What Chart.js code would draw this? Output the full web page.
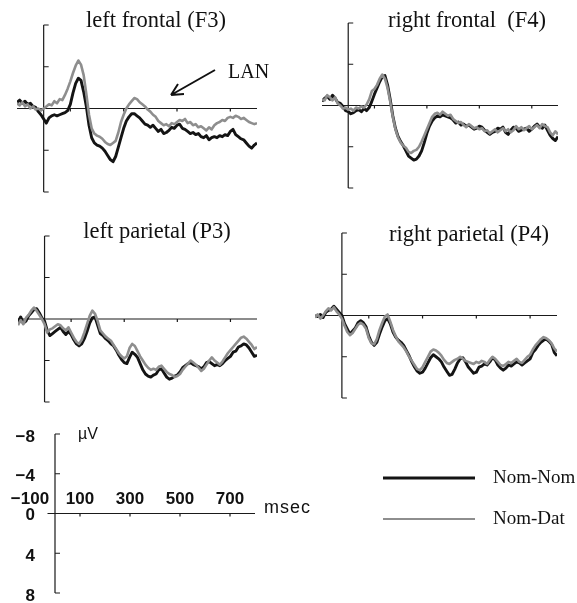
<!DOCTYPE html>
<html>
<head>
<meta charset="utf-8">
<script src="https://cdn.jsdelivr.net/npm/chart.js@4.4.1/dist/chart.umd.min.js"></script>
<style>
  html,body{margin:0;padding:0;background:#fff;}
  #fig{position:relative;width:577px;height:603px;overflow:hidden;}
  #fig canvas{position:absolute;}
</style>
</head>
<body>
<div id="fig"></div>
<script>
// time axis (msec), one sample every 10 ms
const times = [-100,-90,-80,-70,-60,-50,-40,-30,-20,-10,
  0,10,20,30,40,50,60,70,80,90,
  100,110,120,130,140,150,160,170,180,190,
  200,210,220,230,240,250,260,270,280,290,
  300,310,320,330,340,350,360,370,380,390,
  400,410,420,430,440,450,460,470,480,490,
  500,510,520,530,540,550,560,570,580,590,
  600,610,620,630,640,650,660,670,680,690,
  700,710,720,730,740,750,760,770,780,790,
  800];

const seriesNames = ['Nom-Nom','Nom-Dat'];
const panelTitles = ['left frontal (F3)','right frontal  (F4)','left parietal (P3)','right parietal (P4)'];

// µV, negative plotted upwards
const f3NomNom = [-0.6,-0.8,-0.5,-0.7,-0.4,-0.5,-0.2,-0.1,0.3,0.6,
  1.0,1.4,0.9,0.7,0.6,0.7,0.6,0.5,0.4,0.2,
  -0.4,-1.5,-2.4,-2.9,-2.7,-1.6,-0.2,1.6,2.8,3.3,
  3.5,3.6,3.8,4.1,4.5,4.9,5.1,4.6,3.7,2.8,
  1.9,1.2,0.8,0.5,0.5,0.7,0.9,1.2,1.5,1.6,
  1.8,1.6,1.9,2.2,2.0,2.4,2.3,2.1,1.8,1.9,
  1.6,1.5,1.9,2.0,2.2,2.4,2.3,2.5,2.4,2.7,
  2.8,2.6,3.0,2.8,2.7,2.8,2.6,2.7,2.5,2.6,
  2.2,2.0,2.5,2.7,2.9,3.0,3.3,3.6,3.8,3.5,
  3.3];
const f3NomDat = [-0.5,-0.3,-0.6,-0.2,-0.4,0.0,-0.2,0.1,0.0,0.2,
  0.0,-0.2,-0.4,-0.3,-0.7,-0.5,-0.9,-0.8,-1.3,-1.9,
  -2.6,-3.4,-4.1,-4.6,-4.2,-3.2,-1.4,0.6,1.9,2.4,
  2.6,2.7,2.9,3.2,3.4,3.5,3.3,3.1,2.3,1.3,
  0.6,0.0,-0.4,-0.7,-1.0,-0.9,-0.6,-0.4,-0.2,0.1,
  0.3,0.6,0.8,1.2,1.4,1.6,1.5,1.7,1.4,1.5,
  1.3,1.1,1.2,1.0,1.4,1.3,1.6,1.5,1.8,1.7,
  1.9,2.1,1.8,2.0,1.6,1.4,1.3,1.1,1.2,0.9,
  0.8,0.9,0.7,0.8,1.0,0.9,1.1,1.3,1.4,1.5,
  1.4];
const f4NomNom = [-0.4,-0.7,-0.9,-0.6,-1.0,-0.7,-0.3,-0.2,0.1,0.5,
  0.6,0.8,0.7,0.5,0.4,0.6,0.3,0.5,0.2,-0.4,
  -1.1,-1.7,-2.3,-2.8,-2.9,-2.0,-0.6,1.0,2.2,3.0,
  3.5,3.9,4.4,4.9,5.1,5.3,5.2,4.9,4.4,3.6,
  2.7,2.0,1.5,1.2,1.0,1.1,0.9,1.0,1.1,1.2,
  1.4,1.7,1.6,1.9,1.8,2.0,1.9,2.1,2.3,2.2,
  2.0,2.1,2.4,2.6,2.8,2.6,2.5,2.2,2.3,2.1,
  2.6,2.8,2.4,2.1,2.2,2.5,2.4,2.3,2.2,2.5,
  2.3,2.0,1.8,2.1,2.2,1.9,2.4,2.9,3.2,3.4,
  3.0];
const f4NomDat = [-0.6,-0.5,-1.0,-0.8,-0.5,-0.8,-0.2,0.0,0.3,0.2,
  0.4,0.3,0.5,0.2,0.3,0.1,0.2,-0.1,-0.6,-1.4,
  -1.6,-2.0,-2.6,-3.0,-2.6,-1.7,-0.4,1.1,2.3,3.1,
  3.6,3.9,4.1,4.5,4.6,4.4,4.3,4.0,3.5,2.9,
  2.3,1.7,1.1,0.8,0.7,0.9,0.6,0.8,1.0,0.9,
  1.3,1.5,1.7,1.6,1.9,2.1,1.8,2.0,2.2,2.1,
  2.3,2.2,2.5,2.4,2.7,2.5,2.3,2.6,2.4,2.2,
  2.5,2.3,2.6,2.4,2.0,2.3,2.1,2.4,2.2,2.0,
  2.3,2.1,1.9,2.2,1.8,2.0,2.1,2.6,2.9,2.5,
  2.8];
const p3NomNom = [0.3,-0.2,0.4,0.2,-0.3,-0.6,-0.9,-1.0,-0.6,-0.1,
  0.2,1.1,1.6,1.4,1.2,1.0,0.8,1.2,1.5,1.2,
  1.5,2.0,2.4,2.6,2.4,1.9,1.2,0.4,-0.1,-0.2,
  0.6,1.4,1.6,1.9,2.1,2.4,2.6,3.0,3.5,3.9,
  4.2,4.3,3.7,3.2,3.4,3.7,4.3,4.9,5.3,5.5,
  5.6,5.4,5.3,4.9,4.8,5.2,5.6,5.8,5.7,5.5,
  5.4,5.1,4.7,4.5,4.3,4.2,4.4,4.5,4.6,4.8,
  4.6,4.2,4.1,4.3,4.5,4.4,4.5,4.3,4.0,3.8,
  3.6,3.2,3.1,2.7,2.6,2.4,2.5,2.8,3.2,3.6,
  3.5];
const p3NomDat = [0.6,0.1,0.5,-0.1,-0.4,-0.8,-1.1,-0.8,-0.4,0.0,
  0.5,1.3,1.0,0.9,0.7,0.5,0.6,0.9,1.1,0.8,
  1.3,1.8,2.2,2.4,2.0,1.3,0.5,-0.3,-0.8,-0.5,
  0.2,1.1,1.4,1.7,1.9,2.1,2.5,2.9,3.3,3.6,
  3.8,3.6,2.8,2.4,2.6,3.1,3.6,4.0,4.4,4.7,
  4.9,4.8,4.9,4.6,4.5,4.8,5.1,5.3,5.4,5.6,
  5.5,5.3,4.9,4.6,4.3,4.0,4.2,4.4,4.7,5.0,
  4.8,4.4,4.0,3.7,4.0,4.2,4.4,4.1,3.7,3.3,
  3.0,2.7,2.4,2.1,1.8,1.7,1.9,2.2,2.5,2.9,
  2.7];
const p4NomNom = [0.0,0.1,-0.1,0.2,-0.3,-0.5,-0.6,-0.9,-0.6,-0.3,
  0.0,0.8,1.3,1.8,1.5,1.2,0.7,0.5,0.7,1.1,
  2.0,2.6,2.9,2.6,1.8,1.1,0.5,0.3,0.8,1.6,
  2.1,2.4,2.6,2.9,3.4,3.9,4.5,5.0,5.4,5.6,
  5.5,5.1,4.6,4.1,3.8,4.0,4.2,4.5,5.0,5.4,
  5.8,5.7,5.2,4.6,4.2,4.1,4.5,5.0,5.3,5.6,
  5.5,5.0,4.9,4.7,4.8,4.5,4.1,4.3,4.8,5.1,
  5.3,5.1,4.8,4.9,4.7,4.5,4.6,4.8,4.6,4.4,
  4.2,3.6,3.3,2.9,2.6,2.4,2.3,2.5,2.8,3.6,
  3.9];
const p4NomDat = [0.2,-0.1,0.3,0.0,-0.4,-0.7,-0.5,-0.8,-0.4,-0.1,
  0.3,1.0,1.6,1.9,1.7,1.3,0.9,0.7,0.9,1.3,
  2.2,2.7,2.8,2.3,1.4,0.7,0.1,-0.1,0.6,1.4,
  2.0,2.5,2.8,3.1,3.5,4.0,4.4,4.8,5.2,5.3,
  5.0,4.5,4.0,3.5,3.3,3.4,3.6,3.9,4.3,4.6,
  4.7,4.5,4.3,4.2,4.0,4.2,4.4,4.5,4.6,4.7,
  4.5,4.6,4.4,4.5,4.7,4.3,4.0,4.2,4.5,4.8,
  4.9,4.7,4.5,4.6,4.4,4.2,4.5,4.6,4.3,4.0,
  3.8,3.3,2.9,2.6,2.3,2.1,2.2,2.4,2.7,3.2,
  3.5];

// axis ticks
const yTickValues = [-8,-4,0,4,8];
const yTickLabels = ['−8','−4','0','4','8'];
const xTickValues = [-100,100,300,500,700];
const xTickLabels = ['−100','100','300','500','700'];

const BLACK = '#141414', GRAY = '#8e8e8e';
const fig = document.getElementById('fig');

const erpAxes = {
  id:'erpAxes',
  beforeDatasetsDraw(chart, args, o){
    const {ctx, scales:{x, y}} = chart;
    const x0 = x.getPixelForValue(0), y0 = y.getPixelForValue(0);
    ctx.save();
    ctx.strokeStyle = '#1a1a1a'; ctx.lineWidth = 1.2;
    ctx.beginPath();
    ctx.moveTo(x.getPixelForValue(o.xFrom), y0); ctx.lineTo(x.getPixelForValue(800), y0);
    ctx.moveTo(x0, y.getPixelForValue(-8)); ctx.lineTo(x0, y.getPixelForValue(8));
    for (const v of yTickValues) if (v !== 0) { const py = y.getPixelForValue(v); ctx.moveTo(x0, py); ctx.lineTo(x0 + 5, py); }
    for (const v of xTickValues) if (v > 0) { const px = x.getPixelForValue(v); ctx.moveTo(px, y0); ctx.lineTo(px, y0 + 3); }
    ctx.stroke();
    ctx.restore();
  },
  afterDraw(chart, args, o){
    const {ctx, scales:{x, y}} = chart;
    const ox = o.left, oy = o.top;
    ctx.save();
    ctx.fillStyle = '#111';
    if (o.title){
      ctx.font = '22.5px "Liberation Serif", "Times New Roman", serif';
      ctx.textAlign = 'center'; ctx.textBaseline = 'alphabetic';
      ctx.fillText(o.title, o.titleX - ox, o.titleY - oy);
    }
    if (o.lan){
      ctx.font = '20px "Liberation Serif", serif';
      ctx.textAlign = 'left';
      ctx.fillText('LAN', 228 - ox, 78 - oy);
      // arrow
      ctx.strokeStyle = '#111'; ctx.lineWidth = 2;
      ctx.beginPath();
      ctx.moveTo(215 - ox, 70 - oy); ctx.lineTo(171 - ox, 95 - oy);
      ctx.moveTo(171 - ox, 95 - oy); ctx.lineTo(184 - ox, 94 - oy);
      ctx.moveTo(171 - ox, 95 - oy); ctx.lineTo(178 - ox, 84 - oy);
      ctx.stroke();
    }
    if (o.scaleLabels){
      const x0 = x.getPixelForValue(0), y0 = y.getPixelForValue(0);
      ctx.font = 'bold 17px "Liberation Sans", Arial, sans-serif';
      ctx.textBaseline = 'middle';
      ctx.textAlign = 'right';
      yTickValues.forEach((v, i) => ctx.fillText(yTickLabels[i], x0 - 20, y.getPixelForValue(v) + (v === 0 ? 2 : 3)));
      ctx.textAlign = 'center';
      xTickValues.forEach((v, i) => ctx.fillText(xTickLabels[i], x.getPixelForValue(v), y0 - 14));
      ctx.textAlign = 'left';
      ctx.font = '18px "Liberation Sans", Arial, sans-serif';
      ctx.letterSpacing = '1px';
      ctx.fillText('msec', x.getPixelForValue(800) + 9, y0 - 5);
      ctx.letterSpacing = '0px';
      ctx.font = '16px "Liberation Sans", Arial, sans-serif';
      ctx.fillText('µV', x0 + 23, y.getPixelForValue(-8) + 1);
      // legend
      const rows = [[BLACK, 2.8, 478], [GRAY, 2.2, 519]];
      ctx.font = '19px "Liberation Serif", serif';
      rows.forEach(([c, w, ly], i) => {
        ctx.strokeStyle = c; ctx.lineWidth = w;
        ctx.beginPath(); ctx.moveTo(383 - ox, ly - oy); ctx.lineTo(475 - ox, ly - oy); ctx.stroke();
        ctx.fillStyle = '#111'; ctx.textBaseline = 'alphabetic';
        ctx.fillText(seriesNames[i], 493 - ox, ly + 5 - oy);
      });
    }
    ctx.restore();
  }
};

function panel(box, pad, series, extra){
  const cv = document.createElement('canvas');
  cv.width = box.w; cv.height = box.h;
  cv.style.left = box.left + 'px'; cv.style.top = box.top + 'px';
  cv.style.width = box.w + 'px'; cv.style.height = box.h + 'px';
  fig.appendChild(cv);
  const datasets = series.map((s, i) => ({
    label: seriesNames[i],
    data: s.map((v, k) => ({x: times[k], y: v})),
    borderColor: i === 0 ? BLACK : GRAY,
    borderWidth: i === 0 ? 2.9 : 2.6,
    pointRadius: 0, tension: 0, order: i === 0 ? 1 : 0,
    borderJoinStyle: 'round'
  }));
  return new Chart(cv, {
    type: 'line',
    data: {datasets},
    options: {
      responsive: false, animation: false, devicePixelRatio: 1,
      layout: {padding: pad},
      scales: {
        x: {type: 'linear', min: -100, max: 800, display: false},
        y: {type: 'linear', min: -8, max: 8, reverse: true, display: false}
      },
      plugins: {
        legend: {display: false}, tooltip: {enabled: false},
        erpAxes: Object.assign({left: box.left, top: box.top, xFrom: -100}, extra)
      }
    },
    plugins: [erpAxes]
  });
}

panel({left:0, top:0, w:290, h:205}, {left:17, right:33, top:25, bottom:13},
  [f3NomNom, f3NomDat], {title: panelTitles[0], titleX: 156, titleY: 27, lan: true});
panel({left:290, top:0, w:287, h:205}, {left:32, right:19, top:23, bottom:17},
  [f4NomNom, f4NomDat], {title: panelTitles[1], titleX: 467, titleY: 27});
panel({left:0, top:205, w:290, h:205}, {left:18, right:33, top:31, bottom:8},
  [p3NomNom, p3NomDat], {title: panelTitles[2], titleX: 157, titleY: 238});
panel({left:290, top:205, w:287, h:205}, {left:25, right:20, top:28, bottom:12},
  [p4NomNom, p4NomDat], {title: panelTitles[3], titleX: 469, titleY: 241});
// calibration panel with legend
panel({left:0, top:410, w:577, h:193}, {left:30, right:322, top:24, bottom:10},
  [], {xFrom: -30, scaleLabels: true});
</script>
</body>
</html>
